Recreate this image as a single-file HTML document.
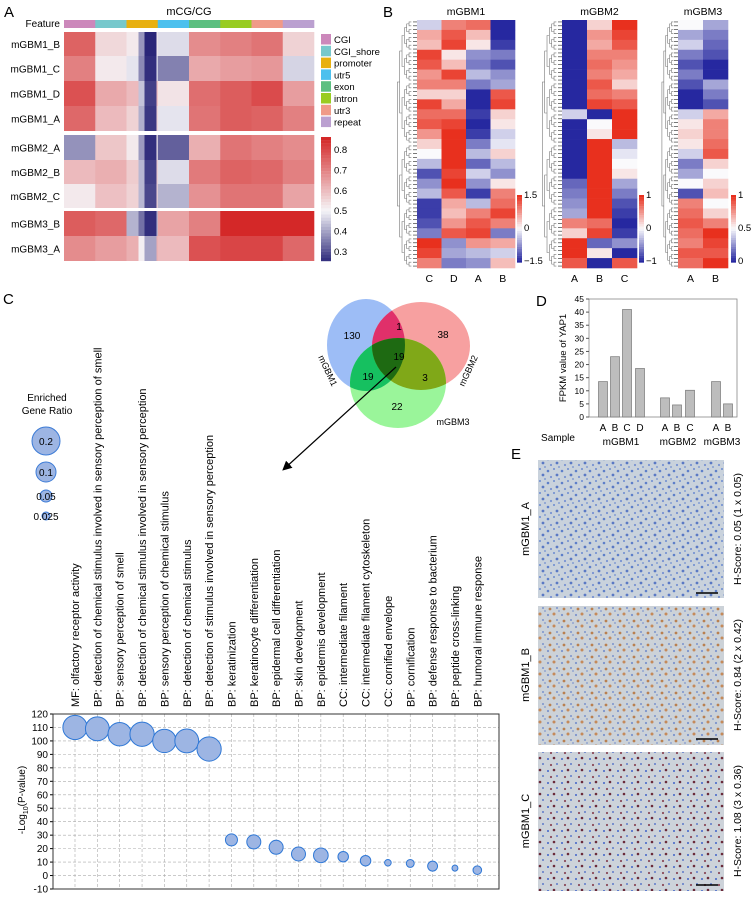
<!DOCTYPE html>
<html><head><meta charset="utf-8">
<style>
body{margin:0;background:#fff;}
svg{display:block;font-family:"Liberation Sans",Arial,sans-serif;}
</style></head>
<body>
<svg id="fig" width="756" height="898" viewBox="0 0 756 898" xmlns="http://www.w3.org/2000/svg">
<defs>
  <pattern id="tissueA" width="14" height="12" patternUnits="userSpaceOnUse">
    <rect width="14" height="12" fill="#c9d2dc"/>
    <circle cx="2" cy="3" r="1.3" fill="#5d7fc9"/><circle cx="8" cy="1" r="1" fill="#6b8bd0"/>
    <circle cx="11" cy="7" r="1.4" fill="#5a79c4"/><circle cx="5" cy="9" r="1.1" fill="#7893d2"/>
    <circle cx="13" cy="11" r="0.9" fill="#6f8dd0"/>
  </pattern>
  <pattern id="tissueB" width="14" height="12" patternUnits="userSpaceOnUse">
    <rect width="14" height="12" fill="#ccd2d8"/>
    <circle cx="2" cy="3" r="1.1" fill="#7d95cc"/><circle cx="8" cy="2" r="1.5" fill="#c58a5a"/>
    <circle cx="11" cy="8" r="1" fill="#7a93cc"/><circle cx="4" cy="9" r="1.4" fill="#b98050"/>
    <circle cx="13" cy="11" r="0.9" fill="#8098cf"/>
  </pattern>
  <pattern id="tissueC" width="14" height="12" patternUnits="userSpaceOnUse">
    <rect width="14" height="12" fill="#cdd3da"/>
    <circle cx="2" cy="3" r="1" fill="#3f63c8"/><circle cx="8" cy="2" r="1.3" fill="#6a2a3a"/>
    <circle cx="11" cy="8" r="0.9" fill="#3b5fc4"/><circle cx="5" cy="9" r="1.1" fill="#8a4a5a"/>
  </pattern>
  <clipPath id="cBlue"><ellipse cx="366" cy="345" rx="39" ry="46"/></clipPath>
  <clipPath id="cRed"><ellipse cx="421" cy="346" rx="49" ry="44"/></clipPath>
  <clipPath id="cGreen"><ellipse cx="398" cy="383" rx="48" ry="45"/></clipPath>
  <marker id="arr" markerWidth="8" markerHeight="8" refX="6" refY="4" orient="auto"><path d="M0,0 L8,4 L0,8 Z" fill="#000"/></marker>
</defs>

<!-- panel letters -->
<text x="4" y="17" font-size="15">A</text>
<text x="383" y="17" font-size="15">B</text>
<text x="3" y="304" font-size="15">C</text>
<text x="536" y="306" font-size="15">D</text>
<text x="511" y="459" font-size="15">E</text>

<!-- Panel A -->
<g id="panelA">
  <text x="189" y="15" font-size="11" text-anchor="middle">mCG/CG</text>
  <text x="60" y="27" font-size="10" text-anchor="end">Feature</text>
</g>

<!-- Panel B -->
<g id="panelB"></g>

<!-- Panel C Venn -->
<g id="venn">
  <ellipse cx="366" cy="345" rx="39" ry="46" fill="#9dbdf6"/>
  <ellipse cx="421" cy="346" rx="49" ry="44" fill="#f7a0a0"/>
  <ellipse cx="398" cy="383" rx="48" ry="45" fill="#9af59a"/>
  <g clip-path="url(#cBlue)"><ellipse cx="421" cy="346" rx="49" ry="44" fill="#e0306a"/></g>
  <g clip-path="url(#cBlue)"><ellipse cx="398" cy="383" rx="48" ry="45" fill="#16c060"/></g>
  <g clip-path="url(#cRed)"><ellipse cx="398" cy="383" rx="48" ry="45" fill="#80a818"/></g>
  <g clip-path="url(#cBlue)"><g clip-path="url(#cRed)"><ellipse cx="398" cy="383" rx="48" ry="45" fill="#1e6a12"/></g></g>
  <text x="352" y="339" font-size="10" text-anchor="middle">130</text>
  <text x="399" y="330" font-size="10" text-anchor="middle">1</text>
  <text x="443" y="338" font-size="10" text-anchor="middle">38</text>
  <text x="399" y="360" font-size="10" text-anchor="middle">19</text>
  <text x="368" y="380" font-size="10" text-anchor="middle">19</text>
  <text x="425" y="381" font-size="10" text-anchor="middle">3</text>
  <text x="397" y="410" font-size="10" text-anchor="middle">22</text>
  <text transform="translate(325,372) rotate(65)" font-size="9" text-anchor="middle">mGBM1</text>
  <text transform="translate(471,372) rotate(-65)" font-size="9" text-anchor="middle">mGBM2</text>
  <text x="453" y="425" font-size="9" text-anchor="middle">mGBM3</text>
  <line x1="396" y1="367" x2="284" y2="469" stroke="#000" stroke-width="1.2" marker-end="url(#arr)"/>
</g>

<!-- bubble legend -->
<g>
  <text x="47" y="401" font-size="10" text-anchor="middle">Enriched</text>
  <text x="47" y="414" font-size="10" text-anchor="middle">Gene Ratio</text>
  <circle cx="46" cy="441" r="14" fill="#9db5e3" stroke="#3c7bd6"/><text x="46" y="445" font-size="10" text-anchor="middle">0.2</text>
  <circle cx="46" cy="472" r="10" fill="#9db5e3" stroke="#3c7bd6"/><text x="46" y="476" font-size="10" text-anchor="middle">0.1</text>
  <circle cx="46" cy="496" r="6" fill="#9db5e3" stroke="#3c7bd6"/><text x="46" y="500" font-size="10" text-anchor="middle">0.05</text>
  <circle cx="46" cy="516" r="4" fill="#9db5e3" stroke="#3c7bd6"/><text x="46" y="520" font-size="10" text-anchor="middle">0.025</text>
</g>

<g id="bubble"></g>
<g id="barD"></g>

<!-- Panel E -->
<g>
  <rect x="538" y="460" width="186" height="138" fill="url(#tissueA)"/>
  <line x1="696" y1="593" x2="718" y2="593" stroke="#000" stroke-width="1.5"/>
  <rect x="538" y="606" width="186" height="139" fill="url(#tissueB)"/>
  <line x1="696" y1="739" x2="718" y2="739" stroke="#000" stroke-width="1.5"/>
  <rect x="538" y="752" width="186" height="139" fill="url(#tissueC)"/>
  <line x1="696" y1="885" x2="718" y2="885" stroke="#000" stroke-width="1.5"/>
  <text transform="translate(529,529) rotate(-90)" font-size="11" text-anchor="middle">mGBM1_A</text>
  <text transform="translate(529,675) rotate(-90)" font-size="11" text-anchor="middle">mGBM1_B</text>
  <text transform="translate(529,821) rotate(-90)" font-size="11" text-anchor="middle">mGBM1_C</text>
  <text transform="translate(741,529) rotate(-90)" font-size="10.5" text-anchor="middle">H-Score: 0.05 (1 x 0.05)</text>
  <text transform="translate(741,675) rotate(-90)" font-size="10.5" text-anchor="middle">H-Score: 0.84 (2 x 0.42)</text>
  <text transform="translate(741,821) rotate(-90)" font-size="10.5" text-anchor="middle">H-Score: 1.08 (3 x 0.36)</text>
</g>
</svg>

<script>
const NS="http://www.w3.org/2000/svg";
function mk(parent,tag,attrs,text){const e=document.createElementNS(NS,tag);for(const k in attrs)e.setAttribute(k,attrs[k]);if(text!==undefined)e.textContent=text;parent.appendChild(e);return e;}

/* ---------- Panel A data ---------- */
const featNames=["CGI","CGI_shore","promoter","utr5","exon","intron","utr3","repeat"];
const featColors=["#cc88bb","#77c8cc","#e8b010","#4cc0ee","#5cbf80","#99cc22","#f09a88","#bba0d0"];
const rowNamesA=["mGBM1_B","mGBM1_C","mGBM1_D","mGBM1_A","mGBM2_A","mGBM2_B","mGBM2_C","mGBM3_B","mGBM3_A"];
const methValues=[
 [0.75,0.55,0.52,0.47,0.68,0.70,0.72,0.56],
 [0.70,0.52,0.48,0.36,0.63,0.65,0.66,0.46],
 [0.78,0.63,0.60,0.53,0.73,0.76,0.79,0.65],
 [0.74,0.60,0.56,0.48,0.72,0.76,0.75,0.70],
 [0.38,0.58,0.52,0.32,0.62,0.72,0.70,0.68],
 [0.60,0.62,0.57,0.47,0.71,0.75,0.74,0.70],
 [0.52,0.59,0.56,0.42,0.67,0.72,0.72,0.64],
 [0.76,0.74,0.42,0.64,0.70,0.86,0.86,0.86],
 [0.68,0.65,0.62,0.60,0.78,0.80,0.80,0.74]];
const stripeValues=[0.25,0.26,0.28,0.27,0.26,0.28,0.29,0.26,0.40];
const colorTicksA=[0.8,0.7,0.6,0.5,0.4,0.3];

function colA(v){const t=Math.max(0,Math.min(1,(v-0.25)/0.6));const m=0.4167;
 let a,b,u;if(t<m){a=[42,38,120];b=[245,245,248];u=t/m;}else{a=[245,245,248];b=[212,40,40];u=(t-m)/(1-m);}
 return `rgb(${a.map((x,i)=>Math.round(x+(b[i]-x)*u)).join(",")})`;}
const gA=document.getElementById("panelA");
const ax0=64,aw=250,fw=aw/8;
const rowY=[32,56,81,106,135,160,184,211,236],rowH=[24,25,25,25,25,24,24,25,25];
featColors.forEach((c,i)=>{const r=mk(gA,"rect",{x:ax0+i*fw,y:20,width:fw+0.3,height:8,fill:c});
 
 });
rowNamesA.forEach((n,ri)=>{
 const t=mk(gA,"text",{x:60,y:rowY[ri]+rowH[ri]/2+4,"font-size":10,"text-anchor":"end"},n);
 
 
 methValues[ri].forEach((v,fi)=>{const r=mk(gA,"rect",{x:ax0+fi*fw,y:rowY[ri],width:fw+0.3,height:rowH[ri],fill:colA(v)});
  
  });
 const base=methValues[ri][2],sv=stripeValues[ri];
 mk(gA,"rect",{x:ax0+2*fw+12,y:rowY[ri],width:6,height:rowH[ri],fill:colA((base+sv)/2)});
 const s=mk(gA,"rect",{x:ax0+2*fw+18,y:rowY[ri],width:12,height:rowH[ri],fill:colA(sv)});
 
 
});
featNames.forEach((n,i)=>{const r=mk(gA,"rect",{x:321,y:34+i*11.8,width:10,height:10.5,fill:featColors[i]});
 
 
 mk(gA,"text",{x:334,y:43+i*11.8,"font-size":9.5},n);});
for(let k=0;k<40;k++){const v=0.85-k*0.6/40;mk(gA,"rect",{x:321,y:137+k*3.1,width:10,height:3.3,fill:colA(v)});}
colorTicksA.forEach(v=>{const y=137+(0.86-v)/0.61*124;mk(gA,"text",{x:334,y:y+4,"font-size":9.5},v.toString());});

/* ---------- Panel B data ---------- */
const bColsM1=["C","D","A","B"],bColsM2=["A","B","C"],bColsM3=["A","B"];
const m1C=[-0.2,0.4,0.3,0.9,0.8,0.5,0.6,0.2,0.9,0.7,0.8,0.5,0.2,0,-0.3,-0.8,-0.5,-0.3,-0.9,-0.9,-0.8,-0.6,1,0.9,0.6];
const m1D=[0.6,0.8,0.9,0.1,0.3,0.9,0.6,0.2,0.4,0.7,0.9,1,1,1,1,0.9,1,0.8,0.4,0.3,0.5,0.8,-0.5,-0.4,-0.6];
const m1A=[0.7,0.3,0.1,-0.5,-0.6,-0.3,-0.6,-1,-1,-0.9,-1,-0.9,-0.6,-0.3,-0.7,-0.2,-0.5,-0.9,-0.3,0.6,0.8,0.9,0.5,-0.3,-0.5];
const m1B=[-1,-1,-0.9,-0.6,-0.8,-0.5,-0.4,0.8,0.9,0.2,0.1,-0.2,-0.1,0.2,-0.3,-0.5,0.1,0.6,0.7,0.9,0.6,-0.6,0.4,-0.2,0.3];
const m2A=[-1,-1,-1,-1,-1,-1,-1,-1,-1,-0.2,-1,-1,-1,-1,-1,-1,-0.7,-0.6,-0.5,-0.4,0.6,0.2,1,1,0.8];
const m2B=[0.2,0.5,0.4,0.6,0.7,0.6,0.8,0.7,0.9,-1,0,0.1,1,1,1,1,1,1,1,1,0.7,0.9,-0.7,0.1,-1];
const m2C=[1,0.9,0.8,0.6,0.5,0.4,0.2,0.6,0.8,1,1,1,-0.3,-0.1,0,0.1,-0.4,-0.6,-0.8,-0.9,-1,-0.9,-0.5,-1,0.8];
const m3A=[0.5,0.3,0.4,0.2,0.1,0.2,0.1,0,0,0.4,0.55,0.6,0.55,0.4,0.2,0.3,0.5,0.1,0.8,0.85,0.9,0.85,0.8,0.9,0.85];
const m3B=[0.3,0.2,0.15,0.1,0,0,0.3,0.2,0.1,0.7,0.8,0.8,0.85,0.9,0.6,0.5,0.6,0.65,0.5,0.6,0.8,1,0.95,0.9,1];
const barTicksM1=["1.5","0","\u22121.5"],barTicksM2=["1","0","\u22121"],barTicksM3=["1","0.5","0"];

function colB(v){v=Math.max(-1,Math.min(1,v));let a,b,u;
 if(v<0){a=[250,250,252];b=[38,40,160];u=-v;}else{a=[250,250,252];b=[232,48,30];u=v;}
 return `rgb(${a.map((x,i)=>Math.round(x+(b[i]-x)*u)).join(",")})`;}
const gB=document.getElementById("panelB");
function dendro(xl,xr,y0,y1,depth){
 if(depth===0||y1-y0<4){mk(gB,"line",{x1:xr-4,y1:(y0+y1)/2,x2:xr,y2:(y0+y1)/2,stroke:"#222","stroke-width":0.6});return (y0+y1)/2;}
 const mid=(y0+y1)/2;const xs=xl+(xr-xl)*(1-depth/8)*0.85;
 const a=dendro(xl,xr,y0,mid,depth-1),b=dendro(xl,xr,mid,y1,depth-1);
 const xa=xl+(xr-xl)*(1-(depth-1)/8)*0.85;
 mk(gB,"path",{d:`M${xa},${a}H${xs}V${b}H${xa}`,fill:"none",stroke:"#777","stroke-width":0.6});return (a+b)/2;}
function heat(title,x0,cw,cols,arrs,tx,ticks,barX,norm,key){
 const y0=20,h=248,sh=h/arrs[0].length;
 const t=mk(gB,"text",{x:x0+cw*cols.length/2,y:15,"font-size":10.5,"text-anchor":"middle"},title);
 
 
 arrs.forEach((arr,ci)=>{arr.forEach((v,si)=>{const r=mk(gB,"rect",{x:x0+ci*cw,y:y0+si*sh,width:cw+0.3,height:sh+0.3,fill:colB(norm(v))});
   
   });
  mk(gB,"text",{x:x0+ci*cw+cw/2,y:282,"font-size":10.5,"text-anchor":"middle"},cols[ci]);});
 dendro(tx,x0,y0,y0+h,7);
 for(let k=0;k<30;k++)mk(gB,"rect",{x:barX,y:195+k*2.25,width:5,height:2.4,fill:colB(1-k/14.5)});
 ticks.forEach((tk,i)=>mk(gB,"text",{x:barX+7,y:198+i*33,"font-size":9.5},tk));
}
heat("mGBM1",417,24.5,bColsM1,[m1C,m1D,m1A,m1B],395,barTicksM1,517,v=>v,"mgbm1");
heat("mGBM2",562,25,bColsM2,[m2A,m2B,m2C],540,barTicksM2,639,v=>v,"mgbm2");
heat("mGBM3",678,25,bColsM3,[m3A,m3B],660,barTicksM3,731,v=>(v-0.5)*2,"mgbm3");

/* ---------- Panel C bubble chart ---------- */
const goTerms=["MF: olfactory receptor activity","BP: detection of chemical stimulus involved in sensory perception of smell","BP: sensory perception of smell","BP: detection of chemical stimulus involved in sensory perception","BP: sensory perception of chemical stimulus","BP: detection of chemical stimulus","BP: detection of stimulus involved in sensory perception","BP: keratinization","BP: keratinocyte differentiation","BP: epidermal cell differentiation","BP: skin development","BP: epidermis development","CC: intermediate filament","CC: intermediate filament cytoskeleton","CC: cornified envelope","BP: cornification","BP: defense response to bacterium","BP: peptide cross-linking","BP: humoral immune response"];
const negLogP=[110,109,105,105,100,100,94,26.5,25,21,16,15,14,11,9.5,9,7,5.5,4];
const geneRatio=[0.15,0.145,0.14,0.15,0.14,0.145,0.15,0.037,0.05,0.05,0.05,0.055,0.028,0.028,0.011,0.016,0.025,0.009,0.019];
const yTicksC=[-10,0,10,20,30,40,50,60,70,80,90,100,110,120];
const gC=document.getElementById("bubble");
const cL=53,cR=499,cT=714,cBt=889;
const yC=v=>cT+(120-v)/130*(cBt-cT);
const xC=i=>75+i*22.35;
const rC=g=>14*Math.sqrt(g/0.2);
yTicksC.forEach(v=>{mk(gC,"line",{x1:cL,y1:yC(v),x2:cR,y2:yC(v),stroke:"#aaa","stroke-dasharray":"3,2","stroke-width":0.6});
 mk(gC,"line",{x1:cL-3,y1:yC(v),x2:cL,y2:yC(v),stroke:"#000"});
 mk(gC,"text",{x:cL-5,y:yC(v)+3.5,"font-size":10,"text-anchor":"end"},v.toString());});
goTerms.forEach((t,i)=>{mk(gC,"line",{x1:xC(i),y1:cT,x2:xC(i),y2:cBt,stroke:"#aaa","stroke-dasharray":"3,2","stroke-width":0.6});
 const tx=mk(gC,"text",{transform:`translate(${xC(i)+4},707) rotate(-90)`,"font-size":11},t);
 
 });
mk(gC,"rect",{x:cL,y:cT,width:cR-cL,height:cBt-cT,fill:"none",stroke:"#333","stroke-width":1});
negLogP.forEach((v,i)=>{const c=mk(gC,"circle",{cx:xC(i),cy:yC(v),r:rC(geneRatio[i]),fill:"#9db5e3",stroke:"#2f78d6","stroke-width":1});
 
 });
const yt=mk(gC,"text",{transform:"translate(25,800) rotate(-90)","font-size":10,"text-anchor":"middle"});


yt.innerHTML='-Log<tspan font-size="7" dy="3">10</tspan><tspan dy="-3">(P-value)</tspan>';

/* ---------- Panel D bar chart ---------- */
const dSamples=["A","B","C","D","A","B","C","A","B"];
const dGroups=["mGBM1","mGBM2","mGBM3"];
const fpkm=[13.5,23,41,18.5,7.3,4.6,10.2,13.5,5];
const yTicksD=[0,5,10,15,20,25,30,35,40,45];
const gD=document.getElementById("barD");
const dL=589,dR=737,dT=299,dB=417;
const yD=v=>dB-v/45*(dB-dT);
const xD=[603,615,627,640,665,677,690,716,728];
mk(gD,"rect",{x:dL,y:dT,width:dR-dL,height:dB-dT,fill:"none",stroke:"#888","stroke-width":0.8});
yTicksD.forEach(v=>{mk(gD,"line",{x1:dL-3,y1:yD(v),x2:dL,y2:yD(v),stroke:"#555"});
 mk(gD,"text",{x:dL-5,y:yD(v)+3,"font-size":8.5,"text-anchor":"end"},v.toString());});
fpkm.forEach((v,i)=>{const r=mk(gD,"rect",{x:xD[i]-4.5,y:yD(v),width:9,height:dB-yD(v),fill:"#bdbdbd",stroke:"#777","stroke-width":0.7});
 
 
 mk(gD,"text",{x:xD[i],y:431,"font-size":10,"text-anchor":"middle"},dSamples[i]);});
mk(gD,"text",{x:558,y:441,"font-size":10,"text-anchor":"middle"},"Sample");
[621,678,722].forEach((x,i)=>mk(gD,"text",{x:x,y:445,"font-size":10,"text-anchor":"middle"},dGroups[i]));
const dt=mk(gD,"text",{transform:"translate(566,358) rotate(-90)","font-size":9.5,"text-anchor":"middle"},"FPKM value of YAP1");


</script>
</body></html>
